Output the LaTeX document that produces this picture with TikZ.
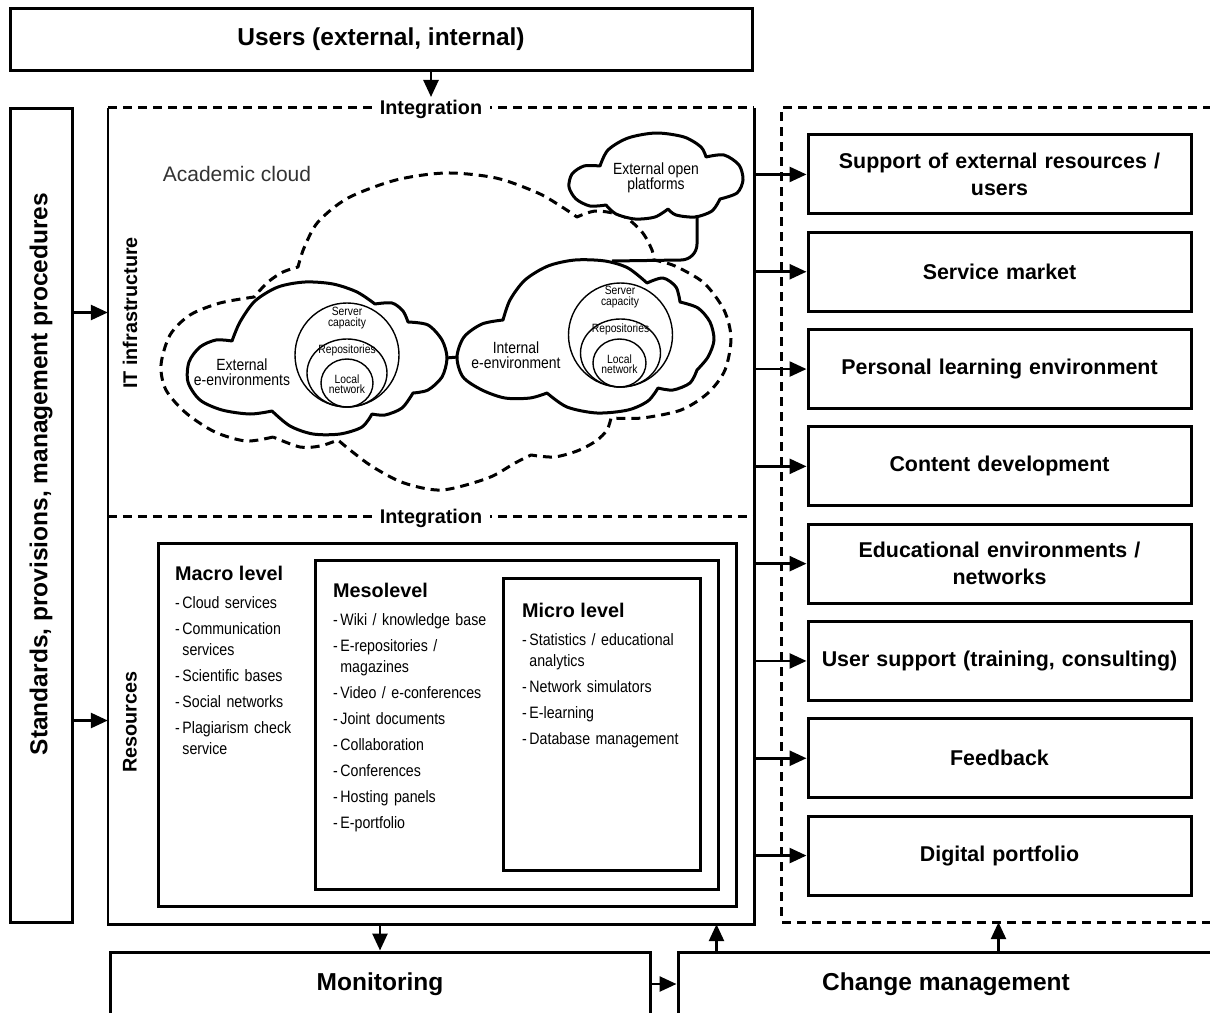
\documentclass[tikz,border=0pt]{standalone}
\usepackage{graphicx}
\usepackage{fontspec}
\setmainfont{Liberation Sans}
\newfontfamily\narrowfont[FakeStretch=0.86]{Liberation Sans}
\usetikzlibrary{matrix,arrows.meta}
\newcommand{\titlefont}{\fontsize{24.5}{29}\selectfont\bfseries}
\newcommand{\boxfont}{\fontsize{21.4}{27}\selectfont\bfseries\hyphenpenalty=10000\parskip=0pt}
\newcommand{\headfont}{\fontsize{19.8}{24}\selectfont\bfseries}
\newcommand{\listfont}{\narrowfont\fontsize{16.5}{21}\selectfont}
\newcommand{\cloudfont}{\narrowfont\fontsize{16.2}{15.5}\selectfont}
\newcommand{\ringfont}{\narrowfont\fontsize{12}{10.5}\selectfont}
\newcommand{\lidash}{-\kern2.5pt}
\newcommand{\lskip}{\hphantom{\lidash}}

\begin{document}
\begin{tikzpicture}[x=1pt, y=-1pt, >={Triangle[length=17pt,width=15pt]},
		box/.style={draw, line width=3pt},
		outbox/.style={draw, line width=3pt, minimum width=383pt, minimum height=79pt, text width=356pt, align=center, font=\boxfont},
		mainframe/.style={line width=2.6pt},
		dash line/.style={line width=3pt, dash pattern=on 9pt off 6pt},
		cloudline/.style={line width=3pt, line join=round},
		ring/.style={line width=1.4pt},
		arr/.style={->, line width=2.6pt}]
	\useasboundingbox (0,0) rectangle (1210,1012);
	\clip (0,0) rectangle (1210,1012);
	\fill[white] (0,0) rectangle (1210,1012);

	\node (users) [box, minimum width=742pt, minimum height=62pt, font=\titlefont] at (381,39) {Users (external, internal)};
	\node (std) [box, minimum width=62pt, minimum height=814pt, font=\titlefont] at (41,515) {\rotatebox{90}{\hspace*{82pt}Standards, provisions, management procedures}};
	\node (itsec) [minimum width=646pt, minimum height=409pt] at (431,312.5) {};
	\node (ressec) [minimum width=646pt, minimum height=407pt] at (431,720.5) {};
	\draw[mainframe] (itsec.north west) -- (ressec.south west) -- (ressec.south east) -- (itsec.north east);
	\draw[dash line] (itsec.north west) -- (itsec.north east);
	\draw[dash line] (ressec.north west) -- (ressec.north east);
	\node (integ1) [fill=white, font=\headfont, inner xsep=8pt, yshift=-2pt] at (itsec.north) {Integration};
	\node (integ2) [fill=white, font=\headfont, inner xsep=8pt, yshift=-2pt] at (ressec.north) {Integration};
	\node (itlab) [rotate=90, font=\headfont] at (130,313) {IT infrastructure};
	\node (reslab) [rotate=90, font=\headfont] at (130,722) {Resources};

	\node (outreg) [minimum width=460pt, minimum height=814pt] at (1012,515) {};
	\draw[dash line] (outreg.north east) -- (outreg.north west) -- (outreg.south west) -- (outreg.south east);
	\matrix (outc) [matrix of nodes, row sep=15.3pt, nodes={outbox}] at (999.5,515)
	{
		Support of external resources /\par users\\
		Service market\\
		Personal learning environment\\
		Content development\\
		Educational environments /\par networks\\
		User support (training, consulting)\\
		Feedback\\
		Digital portfolio\\
	};

	\node (mon) [box, minimum width=540pt, minimum height=64pt, font=\titlefont] at (380,984) {Monitoring};
	\node (chg) [box, minimum width=536pt, minimum height=64pt, font=\titlefont] at (946,984) {Change management};
	\coordinate (chgup1) at ([xshift=40pt]chg.north west);
	\coordinate (chgup2) at ([xshift=322pt]chg.north west);

	\path[arr]
		(users.south -| integ1.north) edge (integ1.north)
		(std.east |- itsec.west) edge (itsec.west)
		(std.east |- ressec.west) edge (ressec.west)
		(ressec.south -| mon.north) edge (mon.north)
		(mon.east) edge (chg.west)
		(chgup1) edge (chgup1 |- ressec.south)
		(chgup2) edge (chgup2 |- outreg.south);
	\path[arr]
		(itsec.east |- outc-1-1.west) edge (outc-1-1.west)
		(itsec.east |- outc-2-1.west) edge (outc-2-1.west)
		(itsec.east |- outc-3-1.west) edge (outc-3-1.west)
		(itsec.east |- outc-4-1.west) edge (outc-4-1.west)
		(itsec.east |- outc-5-1.west) edge (outc-5-1.west)
		(itsec.east |- outc-6-1.west) edge (outc-6-1.west)
		(itsec.east |- outc-7-1.west) edge (outc-7-1.west)
		(itsec.east |- outc-8-1.west) edge (outc-8-1.west);

	\draw[dash line, line join=round]
		plot[smooth] coordinates {(273,437) (246,441) (215,432) (186,413) (166,390) (161,365) (170,335) (190,315) (220,303) (254,297)}
		-- plot[smooth] coordinates {(254,297) (268,282) (283,272) (298,267)}
		-- plot[smooth] coordinates {(298,267) (304,248) (318,222) (348,198) (396,180) (446,173) (496,178) (538,193) (562,207) (577,217)}
		-- plot[smooth] coordinates {(577,217) (596,211) (623,216) (642,232) (652,250) (654,260)}
		-- plot[smooth] coordinates {(654,260) (675,266) (704,283) (724,310) (731,338) (725,370) (708,393) (681,410) (642,418) (611,418)}
		-- plot[smooth] coordinates {(611,418) (607,430) (596,441) (577,451) (554,457) (531,455)}
		-- plot[smooth] coordinates {(531,455) (515,463) (488,478) (442,490) (404,483) (373,467) (350,450) (338,440)}
		-- plot[smooth] coordinates {(338,440) (320,446) (300,447) (273,437)} -- cycle;
	\node (acad) [font=\fontsize{21}{25}\selectfont, text=black!80] at (237,174) {Academic cloud};

	\filldraw[cloudline, fill=white]
		plot[smooth] coordinates {(232,341) (240,322) (255,301) (278,287) (305,282) (333,284) (357,292) (375,304)}
		-- plot[smooth] coordinates {(375,304) (392,303) (403,311) (408,322)}
		-- plot[smooth] coordinates {(408,322) (428,325) (442,340) (447,358) (442,377) (428,390) (413,393)}
		-- plot[smooth] coordinates {(413,393) (402,408) (385,415) (372,414)}
		-- plot[smooth] coordinates {(372,414) (362,427) (340,434) (313,434) (290,426) (272,411)}
		-- plot[smooth] coordinates {(272,411) (250,414) (222,410) (200,400) (188,382) (189,362) (200,347) (216,340) (232,341)} -- cycle;
	\filldraw[cloudline, fill=white]
		plot[smooth] coordinates {(503,320) (510,300) (525,280) (548,266) (575,260) (605,261) (628,268) (647,283)}
		-- plot[smooth] coordinates {(647,283) (663,278) (676,287) (680,302)}
		-- plot[smooth] coordinates {(680,302) (698,308) (710,322) (714,340) (708,357) (697,370)}
		-- plot[smooth] coordinates {(697,370) (690,383) (673,390) (658,388)}
		-- plot[smooth] coordinates {(658,388) (648,401) (628,410) (597,413) (567,407) (547,393)}
		-- plot[smooth] coordinates {(547,393) (530,398) (505,398) (482,390) (463,377) (457,357) (464,337) (482,324) (503,320)} -- cycle;
	\filldraw[cloudline, fill=white]
		plot[smooth] coordinates {(600,166) (608,150) (628,138) (656,133) (684,137) (701,147) (706,157)}
		-- plot[smooth] coordinates {(706,157) (724,155) (739,165) (743,180) (737,193) (720,199)}
		-- plot[smooth] coordinates {(720,199) (712,211) (695,217) (676,215) (668,209)}
		-- plot[smooth] coordinates {(668,209) (655,217) (635,219) (616,214) (606,205)}
		-- plot[smooth] coordinates {(606,205) (590,206) (576,199) (569,187) (572,174) (584,166) (600,166)} -- cycle;

	\coordinate (extR) at (446,358);
	\coordinate (intL) at (458,357);
	\coordinate (platfoot) at (697,215);
	\coordinate (intjoin) at (612,261);
	\draw[cloudline] (extR) -- (intL);
	\draw[cloudline] (platfoot) -- (697,244) to[out=-90,in=0] (681,260) -- (intjoin);

	\draw[ring] (347,355) circle[radius=52];
	\draw[ring] (347,373) ellipse[x radius=40, y radius=34];
	\draw[ring] (347,383) ellipse[x radius=26, y radius=24];
	\draw[ring] (620.5,335) circle[radius=52];
	\draw[ring] (620.5,353) ellipse[x radius=40, y radius=34];
	\draw[ring] (619.5,363) ellipse[x radius=26.5, y radius=24];

	\node (extlab) [font=\cloudfont, align=center] at (242,372) {External\\e-environments};
	\node (intlab) [font=\cloudfont, align=center] at (516,355) {Internal\\e-environment};
	\node (plat) [font=\cloudfont, align=center] at (656,178) {External open\\platforms};
	\node (extsrv) [font=\ringfont, align=center, inner sep=1pt] at (347,318) {Server\\capacity};
	\node (extrep) [font=\ringfont, inner sep=1pt] at (347,350) {Repositories};
	\node (extnet) [font=\ringfont, align=center, inner sep=1pt] at (347,384) {Local\\network};
	\node (intsrv) [font=\ringfont, align=center, inner sep=1pt] at (620,297) {Server\\capacity};
	\node (intrep) [font=\ringfont, inner sep=1pt] at (620.5,329) {Repositories};
	\node (intnet) [font=\ringfont, align=center, inner sep=1pt] at (619.5,364) {Local\\network};

	\node (macro) [box, minimum width=578pt, minimum height=363pt] at (447,724.5) {};
	\node (meso) [box, minimum width=403pt, minimum height=329pt] at (516.5,724.5) {};
	\node (micro) [box, minimum width=197pt, minimum height=292pt] at (601.5,724) {};
	\node (macrohead) [anchor=base west, font=\headfont, inner sep=0pt] at (175,580) {Macro level};
	\node (mesohead) [anchor=base west, font=\headfont, inner sep=0pt] at (333,597) {Mesolevel};
	\node (microhead) [anchor=base west, font=\headfont, inner sep=0pt] at (522,617) {Micro level};
	\node (macrolist) [anchor=base west, font=\listfont, text width=130pt, align=left, inner sep=0pt] at (175,608) {
		\lidash Cloud services\\[5pt]
		\lidash Communication\\
		\lskip services\\[5pt]
		\lidash Scientific bases\\[5pt]
		\lidash Social networks\\[5pt]
		\lidash Plagiarism check\\
		\lskip service};
	\node (mesolist) [anchor=base west, font=\listfont, text width=160pt, align=left, inner sep=0pt] at (333,625) {
		\lidash Wiki / knowledge base\\[5pt]
		\lidash E-repositories /\\
		\lskip magazines\\[5pt]
		\lidash Video / e-conferences\\[5pt]
		\lidash Joint documents\\[5pt]
		\lidash Collaboration\\[5pt]
		\lidash Conferences\\[5pt]
		\lidash Hosting panels\\[5pt]
		\lidash E-portfolio};
	\node (microlist) [anchor=base west, font=\listfont, text width=170pt, align=left, inner sep=0pt] at (522,645) {
		\lidash Statistics / educational\\
		\lskip analytics\\[5pt]
		\lidash Network simulators\\[5pt]
		\lidash E-learning\\[5pt]
		\lidash Database management};
\end{tikzpicture}
\end{document}
